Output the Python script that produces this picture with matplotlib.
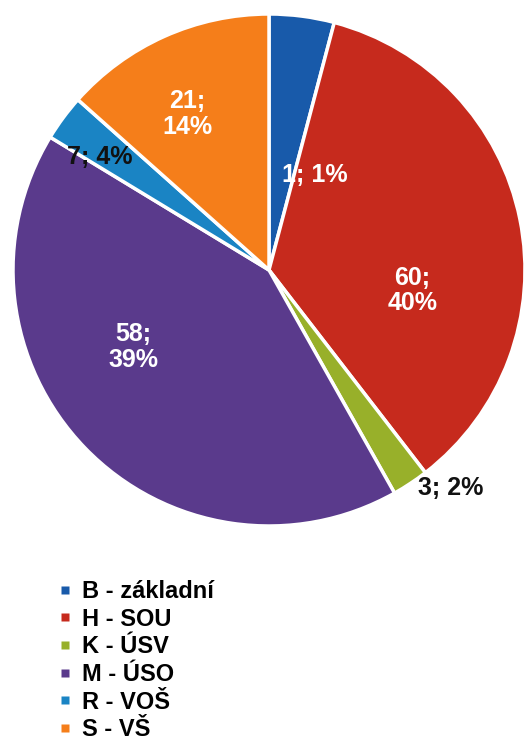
import matplotlib.pyplot as plt
from matplotlib.lines import Line2D

plt.rcParams['font.family'] = ['Liberation Sans', 'DejaVu Sans']

# kategorie a hodnoty
categories = ['B - základní', 'H - SOU', 'K - ÚSV', 'M - ÚSO', 'R - VOŠ', 'S - VŠ']
shares = [4.1, 35.4, 2.3, 41.8, 2.9, 13.4]          # velikost výsečí podle obrázku
counts = [1, 60, 3, 58, 7, 21]                       # popisky
percents = [1, 40, 2, 39, 4, 14]
colors = ['#185aaa', '#c62a1d', '#98b02a', '#5a3a8c', '#1a84c4', '#f57e1a']

fig = plt.figure(figsize=(5.25, 7.45), dpi=100)
r_px = 256
ax = fig.add_axes([(269 - r_px) / 525, (745 - 270 - r_px) / 745,
                   2 * r_px / 525, 2 * r_px / 745])

wedges, _ = ax.pie(shares, colors=colors, startangle=90, counterclock=False,
                   wedgeprops=dict(edgecolor='white', linewidth=2.5))
ax.set_xlim(-1, 1)
ax.set_ylim(-1, 1)
ax.set_aspect('equal')

# popisky: (x, y, barva, dva řádky?)
label_pos = [(0.18, 0.37, 'white', False),
             (0.56, -0.08, 'white', True),
             (0.71, -0.85, '#111111', False),
             (-0.53, -0.30, 'white', True),
             (-0.66, 0.44, '#111111', False),
             (-0.32, 0.61, 'white', True)]
for (x, y, c, two), n, p in zip(label_pos, counts, percents):
    sep = '\n' if two else ' '
    ax.text(x, y, f'{n};{sep}{p}%', ha='center', va='center', color=c,
            fontsize=18, fontweight='bold', linespacing=1.1)

handles = [Line2D([], [], marker='s', linestyle='none', markersize=5.5,
                  markerfacecolor=c, markeredgecolor='none') for c in colors]
fig.legend(handles, categories, loc='upper left', bbox_to_anchor=(48 / 525, 1 - 568 / 745),
           frameon=False, prop=dict(size=17, weight='bold'),
           handlelength=0.4, handletextpad=0.55, labelspacing=0.2, borderpad=0)

plt.savefig('out.png', dpi=100)
